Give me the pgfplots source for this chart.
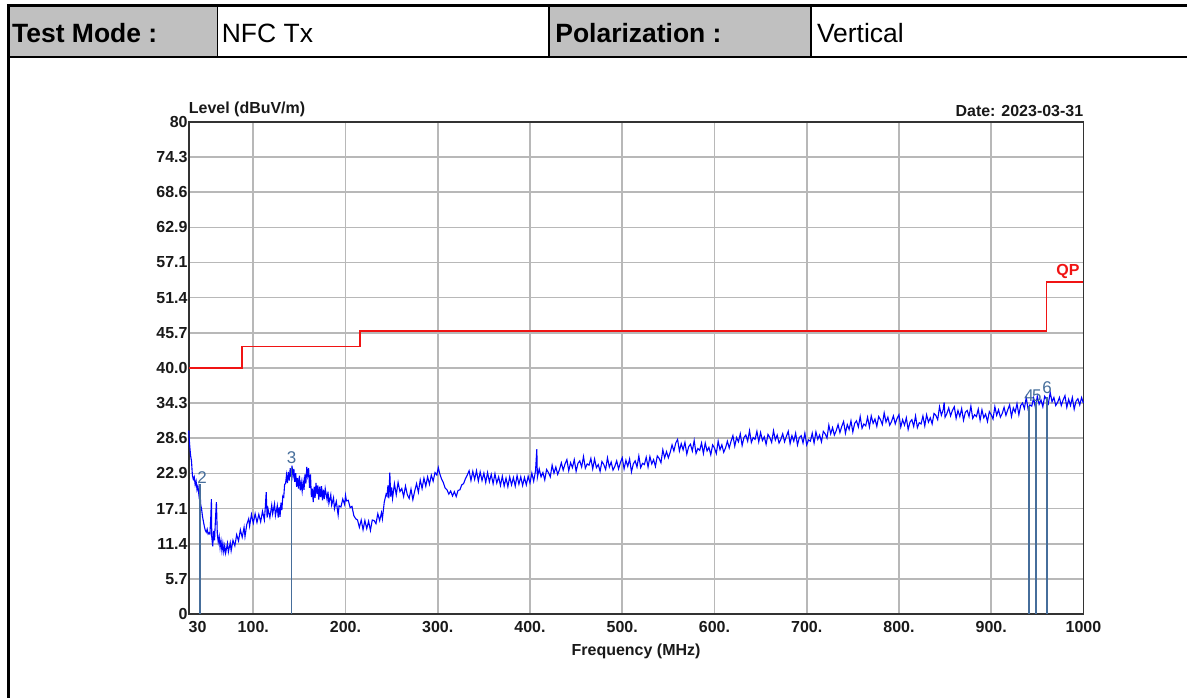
\documentclass[border=0pt]{standalone}
\usepackage{pgfplots}
\pgfplotsset{compat=1.18}
\usepackage{pgfplotstable}
\usepackage{fontspec}
\setmainfont{Liberation Sans}
\definecolor{tracec}{RGB}{0,0,255}
\definecolor{limitc}{RGB}{240,20,20}
\definecolor{mk}{RGB}{70,110,155}
\definecolor{gridc}{RGB}{184,184,184}
\definecolor{cellgray}{RGB}{192,192,192}
\definecolor{txt}{RGB}{25,25,25}

\pgfplotstableread[row sep=\\]{
f l\\
30 29.8\\ 31 27.5\\ 32 25.8\\ 33 24.9\\ 34 22.5\\ 35 21.9\\ 36 22.3\\ 37 21.0\\ 38 21.6\\ 39 20.2\\
40 20.8\\ 41 19.4\\ 42 20.6\\ 43 17.8\\ 44 17.0\\ 45 15.8\\ 46 15.0\\ 47 14.2\\ 48 13.6\\ 49 13.3\\
50 13.8\\ 51 13.0\\ 52 13.2\\ 53 13.0\\ 54 16.0\\ 54.6 18.7\\ 55 12.5\\ 56 11.0\\ 57 13.5\\ 58 12.0\\
59 15.5\\ 60 18.2\\ 61 13.0\\ 62 11.7\\ 63 12.6\\ 64 10.8\\ 65 11.9\\ 66 10.3\\ 67 11.5\\ 68 10.1\\
69 11.1\\ 70 9.9\\ 72 11.5\\ 73 10.1\\ 75 11.6\\ 76 10.3\\ 78 12.0\\ 80 11.1\\ 82 12.9\\ 84 11.9\\
86 13.7\\ 88 12.5\\ 90 14.1\\ 91 12.6\\ 93 14.6\\ 95 15.5\\ 96 14.3\\ 98 16.2\\ 100 14.8\\ 102 16.3\\
104 14.9\\ 106 16.2\\ 108 15.0\\ 110 16.7\\ 112 15.3\\ 113 17.3\\ 114 19.8\\ 115 15.7\\ 116 17.1\\ 118 15.7\\
120 17.7\\ 121 16.3\\ 123 17.9\\ 124 16.0\\ 126 17.6\\ 127 15.7\\ 128 17.4\\ 129 15.8\\ 130 18.1\\ 131 16.9\\
132 19.2\\ 133 19.0\\ 134 21.1\\ 135 21.2\\ 136 22.6\\ 137 21.3\\ 138 23.1\\ 139 21.7\\ 140 23.7\\ 141 22.3\\
142 24.1\\ 143 22.4\\ 144 23.6\\ 145 21.5\\ 146 22.9\\ 147 20.7\\ 148 22.1\\ 149 20.4\\ 150 22.5\\ 151 20.1\\
152 21.4\\ 153 20.0\\ 154 21.5\\ 155 20.2\\ 156 22.7\\ 157 21.2\\ 158 23.9\\ 159 22.5\\ 160 23.7\\ 161 20.5\\
162 22.7\\ 163 19.0\\ 164 20.4\\ 165 18.2\\ 166 20.7\\ 167 18.9\\ 168 21.3\\ 169 19.5\\ 170 20.9\\ 171 18.6\\
172 20.7\\ 173 19.0\\ 174 20.8\\ 175 18.5\\ 176 20.2\\ 177 18.7\\ 178 20.4\\ 180 18.6\\ 181 19.9\\ 182 18.0\\
184 19.4\\ 185 17.7\\ 187 18.9\\ 188 17.1\\ 190 18.3\\ 192 16.1\\ 193 17.6\\ 195 17.4\\ 197 18.7\\ 199 17.8\\
200 19.3\\ 201 18.4\\ 203 18.5\\ 205 17.3\\ 207 17.5\\ 209 16.0\\ 211 15.5\\ 213 15.3\\ 215 14.1\\ 217 15.3\\
219 13.7\\ 221 15.2\\ 223 13.9\\ 225 15.1\\ 227 13.6\\ 229 15.3\\ 231 15.2\\ 233 14.7\\ 235 16.3\\ 237 15.2\\
239 16.5\\ 240 15.5\\ 242 18.2\\ 244 19.5\\ 245 19.2\\ 246 20.9\\ 247 18.8\\ 248 23.0\\ 249 19.1\\ 250 20.6\\
251 18.8\\ 253 21.2\\ 255 19.4\\ 257 21.4\\ 259 19.9\\ 261 20.4\\ 263 19.1\\ 265 20.8\\ 267 19.4\\ 269 18.8\\
271 20.3\\ 273 18.6\\ 275 20.0\\ 277 21.2\\ 279 19.8\\ 281 21.8\\ 283 20.4\\ 285 22.1\\ 287 20.8\\ 289 22.3\\
291 21.1\\ 293 22.6\\ 295 21.6\\ 297 23.0\\ 299 22.6\\ 300.6 23.8\\ 302 22.9\\ 304 22.0\\ 306 21.4\\ 308 20.5\\
310 20.2\\ 312 19.5\\ 314 20.0\\ 316 19.2\\ 318 19.9\\ 320 19.1\\ 322 20.1\\ 324 20.2\\ 326 21.0\\ 328 21.2\\
330 22.0\\ 332 22.6\\ 334 23.3\\ 336 21.7\\ 338 23.2\\ 340 21.9\\ 342 23.3\\ 344 21.6\\ 346 23.1\\ 348 21.7\\
350 22.9\\ 352 21.4\\ 354 23.0\\ 356 21.5\\ 358 22.7\\ 360 21.2\\ 362 22.8\\ 364 21.3\\ 366 22.3\\ 368 20.9\\
370 22.4\\ 372 20.8\\ 374 22.1\\ 376 20.7\\ 378 22.3\\ 380 21.0\\ 382 22.2\\ 384 20.8\\ 386 22.5\\ 388 21.1\\
390 22.3\\ 392 20.9\\ 394 22.2\\ 396 21.0\\ 398 22.4\\ 400 21.3\\ 402 22.9\\ 404 21.6\\ 406 23.3\\ 407.4 26.8\\
408 22.2\\
410 23.6\\ 412 22.3\\ 414 23.0\\ 416 21.8\\ 418 23.5\\ 420 23.0\\ 422 22.3\\ 424 24.2\\ 426 22.9\\ 428 23.9\\
430 22.7\\ 432 23.5\\ 434 24.6\\ 436 23.4\\ 438 24.4\\ 440 25.1\\ 442 23.3\\ 444 24.6\\ 446 23.8\\ 448 25.1\\
450 23.2\\ 452 24.5\\ 454 24.9\\ 456 23.9\\ 458 25.6\\ 460 23.7\\ 462 24.4\\ 464 24.2\\ 466 25.3\\ 468 23.6\\
470 25.2\\ 472 23.8\\ 474 24.3\\ 476 23.2\\ 478 24.8\\ 480 24.3\\ 482 23.5\\ 484 25.4\\ 486 23.9\\ 488 24.7\\
490 23.4\\ 492 24.0\\ 494 24.9\\ 496 23.6\\ 498 24.6\\ 500 25.4\\ 502 23.6\\ 504 25.0\\ 506 24.0\\ 508 25.2\\
510 23.1\\ 512 24.4\\ 514 24.9\\ 516 23.9\\ 518 25.7\\ 520 23.8\\ 522 24.5\\ 524 24.3\\ 526 25.5\\ 528 23.9\\
530 25.6\\ 532 24.4\\ 534 25.1\\ 536 24.0\\ 538 25.7\\ 540 25.3\\ 542 24.6\\ 544 26.7\\ 546 25.4\\ 548 26.4\\
550 25.4\\ 552 26.3\\ 554 27.5\\ 556 26.5\\ 558 27.8\\ 560 28.4\\ 562 26.5\\ 564 27.7\\ 566 26.7\\ 568 27.9\\
570 26.0\\ 572 27.2\\ 574 27.6\\ 576 26.5\\ 578 28.2\\ 580 26.1\\ 582 26.9\\ 584 26.6\\ 586 27.8\\ 588 26.1\\
590 27.8\\ 592 26.5\\ 594 27.1\\ 596 25.9\\ 598 27.5\\ 600 27.0\\ 602 26.1\\ 604 28.1\\ 606 26.7\\ 608 27.5\\
610 26.3\\ 612 27.0\\ 614 28.1\\ 616 27.0\\ 618 28.1\\ 620 29.0\\ 622 27.3\\ 624 28.7\\ 626 28.0\\ 628 29.3\\
630 27.4\\ 632 28.7\\ 634 29.1\\ 636 28.1\\ 638 29.8\\ 640 27.9\\ 642 28.7\\ 644 28.4\\ 646 29.7\\ 648 28.0\\
650 29.5\\ 652 28.2\\ 654 28.8\\ 656 27.6\\ 658 29.2\\ 660 28.7\\ 662 27.9\\ 664 29.8\\ 666 28.3\\ 668 29.1\\
670 27.8\\ 672 28.4\\ 674 29.3\\ 676 28.0\\ 678 28.9\\ 680 29.7\\ 682 27.7\\ 684 29.0\\ 686 28.1\\ 688 29.4\\
690 27.5\\ 692 28.7\\ 694 29.0\\ 696 27.8\\ 698 29.4\\ 700 27.5\\ 702 28.3\\ 704 28.1\\ 706 29.4\\ 708 27.8\\
710 29.6\\ 712 28.4\\ 714 29.1\\ 716 28.0\\ 718 29.7\\ 720 29.3\\ 722 28.6\\ 724 30.7\\ 726 29.3\\ 728 30.3\\
730 29.1\\ 732 29.8\\ 734 30.8\\ 736 29.5\\ 738 30.5\\ 740 31.3\\ 742 29.4\\ 744 30.8\\ 746 30.0\\ 748 31.4\\
750 29.6\\ 752 31.0\\ 754 31.4\\ 756 30.4\\ 758 32.1\\ 760 30.2\\ 762 30.9\\ 764 30.6\\ 766 32.0\\ 768 30.4\\
770 32.2\\ 772 31.0\\ 774 31.7\\ 776 30.5\\ 778 32.1\\ 780 31.6\\ 782 30.8\\ 784 32.7\\ 786 31.2\\ 788 32.0\\
790 30.7\\ 792 31.3\\ 794 32.2\\ 796 30.9\\ 798 31.8\\ 800 32.4\\ 802 30.4\\ 804 31.6\\ 806 30.7\\ 808 31.9\\
810 30.0\\ 812 31.2\\ 814 31.6\\ 816 30.5\\ 818 32.2\\ 820 30.3\\ 822 31.1\\ 824 30.9\\ 826 32.2\\ 828 30.6\\
830 32.4\\ 832 31.2\\ 834 31.9\\ 836 30.9\\ 838 32.6\\ 840 32.3\\ 842 31.6\\ 844 33.7\\ 846 32.3\\ 848 33.2\\
849 34.4\\ 850 32.0\\ 852 32.6\\ 854 33.5\\ 856 32.2\\ 858 33.1\\ 860 33.7\\ 862 31.8\\ 864 33.1\\ 866 32.1\\
868 33.4\\ 870 31.5\\ 872 32.8\\ 874 33.1\\ 876 32.1\\ 878 33.8\\ 880 31.8\\ 882 32.4\\ 884 32.1\\ 886 33.3\\
888 31.5\\ 890 33.2\\ 892 31.9\\ 894 32.5\\ 896 31.3\\ 898 32.9\\ 900 32.4\\ 902 31.7\\ 904 33.7\\ 906 32.3\\
908 33.2\\ 910 32.0\\ 912 32.6\\ 914 33.6\\ 916 32.3\\ 918 33.2\\ 920 34.0\\ 922 32.1\\ 924 33.5\\ 926 32.8\\
928 34.2\\ 930 32.4\\ 932 33.9\\ 934 34.3\\ 936 33.4\\ 938 35.2\\ 940 33.3\\ 942 34.0\\ 944 33.8\\ 946 35.1\\
948 33.5\\ 950 35.4\\ 952 34.1\\ 954 34.8\\ 956 33.7\\ 958 35.4\\ 960 34.9\\ 962 34.2\\ 964 36.0\\ 966 34.5\\
968 35.2\\ 970 33.9\\ 972 34.4\\ 974 35.2\\ 976 33.9\\ 978 34.8\\ 980 35.5\\ 982 33.6\\ 984 34.9\\ 986 33.9\\
988 35.2\\ 990 33.3\\ 992 34.6\\ 994 35.0\\ 996 34.0\\ 998 35.2\\ 1000 34.3\\
}\tracetable

\pgfplotstableread[row sep=\\]{
f l\\
30 40.0\\ 88 40.0\\ 88 43.5\\ 216 43.5\\ 216 46.0\\ 960 46.0\\ 960 54.0\\ 1000 54.0\\
}\limittable

\pgfplotstableread[row sep=\\]{
f l\\
41.9 21.1\\ 141.5 23.9\\ 941.0 33.8\\ 948.6 34.4\\ 960.5 35.2\\
}\markertable

\begin{document}
\begin{tikzpicture}[x=1pt,y=1pt]
\begin{axis}[
  at={(189pt,84pt)}, anchor=south west,
  scale only axis, width=896pt, height=493pt,
  xmin=30, xmax=1000, ymin=0, ymax=80,
  clip=false,
  xtick={30,100,200,300,400,500,600,700,800,900,1000},
  xticklabels={\makebox[0pt][l]{30},100.,200.,300.,400.,500.,600.,700.,800.,900.,1000},
  ytick={0,5.7142857,11.428571,17.142857,22.857143,28.571429,34.285714,40,45.714286,51.428571,57.142857,62.857143,68.571429,74.285714,80},
  yticklabels={0,5.7,11.4,17.1,22.9,28.6,34.3,40.0,45.7,51.4,57.1,62.9,68.6,74.3,80},
  major tick length=0pt,
  grid=major,
  major grid style={gridc, line width=1.6pt},
  axis line style={draw=black!80, line width=1.6pt},
  ticklabel style={font=\fontsize{16}{18}\selectfont\bfseries, text=txt},
  yticklabel style={inner sep=1pt},
  xticklabel style={inner sep=2pt, yshift=-5pt},
]
\addplot[color=limitc, line width=1.8pt, no marks] table[x=f,y=l] {\limittable};
\addplot[color=tracec, line width=1.1pt, no marks] table[x=f,y=l] {\tracetable};
\addplot[ycomb, color=mk, line width=1.7pt, no marks] table[x=f,y=l] {\markertable};
\node[anchor=south, text=mk, font=\fontsize{17}{19}\selectfont, inner sep=1pt] at (axis cs:44.5,21.1) {2};
\node[anchor=south, text=mk, font=\fontsize{17}{19}\selectfont, inner sep=1pt] at (axis cs:141.5,24.3) {3};
\node[anchor=south, text=mk, font=\fontsize{17}{19}\selectfont, inner sep=1pt] at (axis cs:941.0,34.3) {4};
\node[anchor=south, text=mk, font=\fontsize{17}{19}\selectfont, inner sep=1pt] at (axis cs:949.5,34.3) {5};
\node[anchor=south, text=mk, font=\fontsize{17}{19}\selectfont, inner sep=1pt] at (axis cs:960.5,35.7) {6};
\node[anchor=south east, text=limitc, font=\fontsize{16}{18}\selectfont\bfseries, inner sep=1pt] at (axis cs:997,54.3) {QP};
\node[anchor=south west, text=txt, font=\fontsize{16}{18}\selectfont\bfseries, inner sep=0pt] at (rel axis cs:0,1) [yshift=5pt] {Level (dBuV/m)};
\node[anchor=south east, text=txt, font=\fontsize{16}{18}\selectfont\bfseries, inner sep=0pt] at (rel axis cs:1,1) [yshift=5pt] {Date: 2023-03-31};
\node[anchor=north, text=txt, font=\fontsize{16}{18}\selectfont\bfseries, inner sep=0pt] at (rel axis cs:0.5,0) [yshift=-30pt] {Frequency (MHz)};
\end{axis}
\path (0,0) rectangle (1189,699);
% header table
\fill[cellgray] (9,642) rectangle (218,693);
\fill[cellgray] (550,642) rectangle (812,693);
\draw[line width=3.5pt] (7,693.5) -- (1189,693.5);
\draw[line width=2pt] (8,642) -- (1189,642);
\draw[line width=2.5pt] (8.5,0) -- (8.5,695);
\draw[line width=1.5pt] (218,642) -- (218,693);
\draw[line width=1.5pt] (550,642) -- (550,693);
\draw[line width=1.5pt] (812,642) -- (812,693);
\node[anchor=west,inner sep=0pt,font=\fontsize{26.5}{30}\selectfont\bfseries] at (12,666) {Test Mode :};
\node[anchor=west,inner sep=0pt,font=\fontsize{26.5}{30}\selectfont] at (222,666) {NFC Tx};
\node[anchor=west,inner sep=0pt,font=\fontsize{26.5}{30}\selectfont\bfseries] at (556,666) {Polarization :};
\node[anchor=west,inner sep=0pt,font=\fontsize{26.5}{30}\selectfont] at (818,666) {Vertical};
\end{tikzpicture}
\end{document}
